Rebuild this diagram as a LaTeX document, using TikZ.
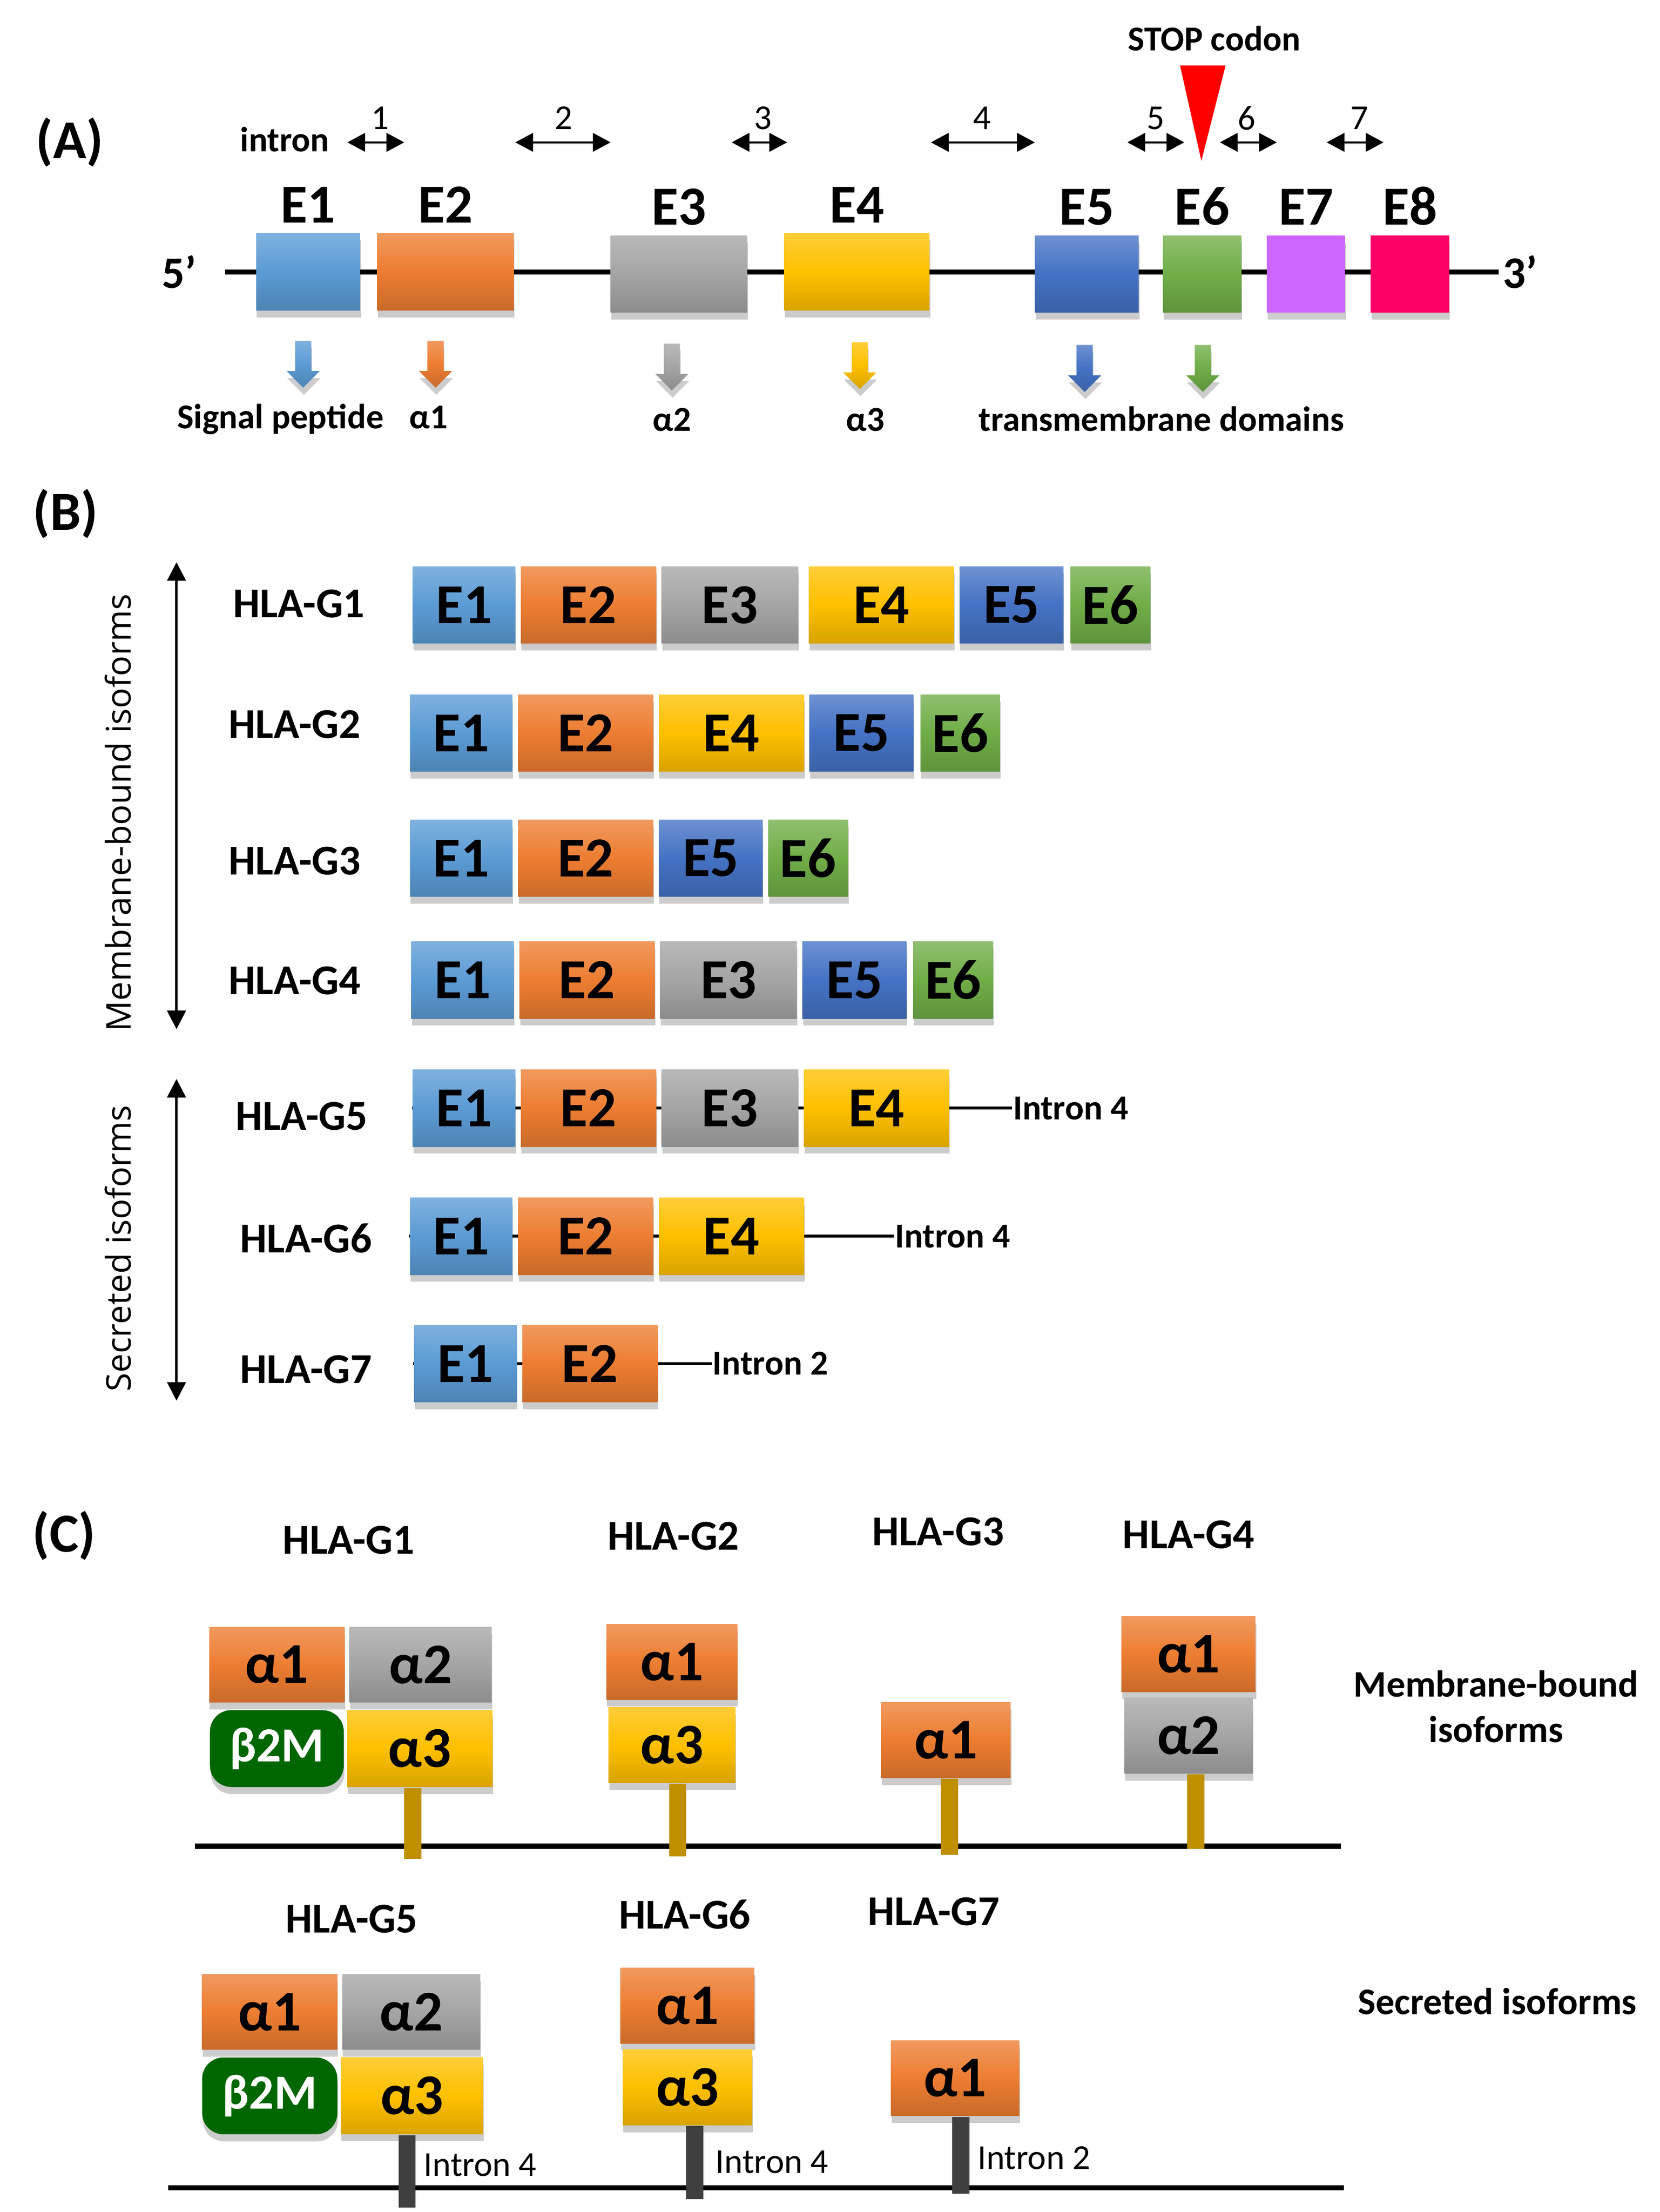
\documentclass[tikz,border=0pt]{standalone}
\usepackage{fontspec}
\setmainfont{Carlito}
\newfontfamily\sidefont{Open Sans}
\usetikzlibrary{positioning,shadows,shapes.arrows,arrows.meta,backgrounds}
\definecolor{cone}{HTML}{5B9BD5}
\definecolor{ctwo}{HTML}{ED7D31}
\definecolor{cthree}{HTML}{A5A5A5}
\definecolor{cfour}{HTML}{FFC000}
\definecolor{cfive}{HTML}{4472C4}
\definecolor{csix}{HTML}{70AD47}
\definecolor{cseven}{HTML}{CC66FF}
\definecolor{ceight}{HTML}{FF0066}
\definecolor{cbeta}{HTML}{006600}
\definecolor{cgold}{HTML}{BF8F00}
\definecolor{cdark}{HTML}{3F3F3F}
\begin{document}
\begin{tikzpicture}[x=0.1mm,y=-0.1mm]
  \tikzset{
    node distance=0.25mm,
    boxshadow/.style={drop shadow={shadow xshift=0.05mm,shadow yshift=-0.5mm,opacity=0.2,fill=black}},
    tint/.style={top color=#1!78!white,bottom color=#1!85!black,middle color=#1},
    gene/.style={rectangle,inner sep=0pt,minimum height=5.4mm,boxshadow},
    exon/.style={rectangle,inner sep=0pt,minimum height=5.4mm,boxshadow,font=\fontsize{11.3}{12}\selectfont\bfseries},
    exone/.style={exon,tint=cone,minimum width=7.2mm},
    extwo/.style={exon,tint=ctwo,minimum width=9.5mm},
    exthree/.style={exon,tint=cthree,minimum width=9.6mm},
    exfour/.style={exon,tint=cfour,minimum width=10.2mm},
    exfive/.style={exon,tint=cfive,minimum width=7.3mm},
    exsix/.style={exon,tint=csix,minimum width=5.6mm},
    dom/.style={rectangle,inner sep=0pt,minimum height=5.3mm,boxshadow,font=\fontsize{11.5}{12}\selectfont\bfseries},
    betabox/.style={rectangle,rounded corners=1.5mm,inner sep=0pt,minimum height=5.4mm,fill=cbeta,text=white,boxshadow,font=\fontsize{9.8}{11}\selectfont\bfseries},
    elabel/.style={inner sep=0pt,font=\fontsize{11}{12}\selectfont\bfseries},
    panellabel/.style={inner sep=0pt,font=\fontsize{11}{12}\selectfont\bfseries},
    iso/.style={inner sep=0pt,font=\fontsize{8.5}{9}\selectfont\bfseries},
    tag/.style={inner sep=0pt,font=\fontsize{7}{8}\selectfont\bfseries},
    tagplain/.style={inner sep=0pt,font=\fontsize{7}{8}\selectfont},
    sidelabel/.style={inner sep=0pt,rotate=90,font=\sidefont\fontsize{6.8}{8}\selectfont},
    dnarrow/.style={single arrow,shape border rotate=270,inner sep=0.5mm,minimum height=3.3mm,single arrow head extend=0.6mm,boxshadow},
    intron/.style={line width=0.4pt,{Triangle[width=1.3mm,length=1.25mm]}-{Triangle[width=1.3mm,length=1.25mm]}},
    isospan/.style={line width=0.5pt,{Triangle[width=1.3mm,length=1.3mm]}-{Triangle[width=1.3mm,length=1.3mm]}},
    strand/.style={line width=1pt},
    thinline/.style={line width=0.6pt},
    goldstem/.style={line width=1.2mm,draw=cgold},
    darkstem/.style={line width=1.2mm,draw=cdark}
  }
  \useasboundingbox (0,0) rectangle (1166,1554);

  % (A) gene structure
  \node[panellabel] (pa) at (49,100) {(A)};
  \node[tag] (intr) at (200,98) {intron};
  \coordinate (i1a) at (244,100); \coordinate (i1b) at (284,100);
  \coordinate (i2a) at (362,100); \coordinate (i2b) at (429,100);
  \coordinate (i3a) at (514,100); \coordinate (i3b) at (553,100);
  \coordinate (i4a) at (654,100); \coordinate (i4b) at (727,100);
  \coordinate (i5a) at (792,100); \coordinate (i5b) at (832,100);
  \coordinate (i6a) at (857,100); \coordinate (i6b) at (897,100);
  \coordinate (i7a) at (932,100); \coordinate (i7b) at (972,100);
  \draw[intron] (i1a) -- (i1b);
  \draw[intron] (i2a) -- (i2b);
  \draw[intron] (i3a) -- (i3b);
  \draw[intron] (i4a) -- (i4b);
  \draw[intron] (i5a) -- (i5b);
  \draw[intron] (i6a) -- (i6b);
  \draw[intron] (i7a) -- (i7b);
  \node[tagplain] (n1) at (267,83) {1};
  \node[tagplain] (n2) at (396,83) {2};
  \node[tagplain] (n3) at (536,83) {3};
  \node[tagplain] (n4) at (690,83) {4};
  \node[tagplain] (n5) at (812,83) {5};
  \node[tagplain] (n6) at (876,83) {6};
  \node[tagplain] (n7) at (955,83) {7};
  \node[tag] (stoplab) at (853,27) {STOP codon};
  \fill[red] (829,46) -- (861,46) -- (844,113) -- cycle;

  \coordinate (l5) at (158,191);
  \coordinate (l3) at (1053,191);
  \draw[strand] (l5) -- (l3);
  \node[inner sep=0pt,font=\fontsize{9}{10}\selectfont\bfseries] (p5) at (126,191) {5’};
  \node[inner sep=0pt,font=\fontsize{9}{10}\selectfont\bfseries] (p3) at (1068,191) {3’};

  \node[gene,tint=cone,minimum width=7.3mm] (a1) at (216.5,191) {};
  \node[gene,tint=ctwo,minimum width=9.6mm] (a2) at (313,191) {};
  \node[gene,tint=cthree,minimum width=9.6mm] (a3) at (477,192.5) {};
  \node[gene,tint=cfour,minimum width=10.2mm] (a4) at (602,191) {};
  \node[gene,tint=cfive,minimum width=7.3mm] (a5) at (763.5,192.5) {};
  \node[gene,tint=csix,minimum width=5.5mm] (a6) at (844.5,192.5) {};
  \node[gene,fill=cseven,minimum width=5.5mm] (a7) at (917.5,192.5) {};
  \node[gene,fill=ceight,minimum width=5.5mm] (a8) at (990.5,192.5) {};
  \node[elabel,above=0.6mm of a1] (t1) {E1};
  \node[elabel,above=0.6mm of a2] (t2) {E2};
  \node[elabel,above=0.6mm of a3] (t3) {E3};
  \node[elabel,above=0.6mm of a4] (t4) {E4};
  \node[elabel,above=0.6mm of a5] (t5) {E5};
  \node[elabel,above=0.6mm of a6] (t6) {E6};
  \node[elabel,above=0.6mm of a7] (t7) {E7};
  \node[elabel,above=0.6mm of a8] (t8) {E8};

  \node[dnarrow,tint=cone] (d1) at (213,253) {};
  \node[dnarrow,tint=ctwo] (d2) at (306,253) {};
  \node[dnarrow,tint=cthree] (d3) at (472,255) {};
  \node[dnarrow,tint=cfour] (d4) at (604,254) {};
  \node[dnarrow,tint=cfive] (d5) at (762,256) {};
  \node[dnarrow,tint=csix] (d6) at (845,256) {};
  \node[tag,anchor=base] (sp) at (197,301) {Signal peptide};
  \node[tag,anchor=base] (la1) at (301,301) {α1};
  \node[tag,anchor=base] (la2) at (472,303) {α2};
  \node[tag,anchor=base] (la3) at (608,303) {α3};
  \node[tag,anchor=base] (tm) at (816,303) {transmembrane domains};

  % (B) transcripts
  \node[panellabel] (pb) at (46,361) {(B)};
  \coordinate (mtop) at (124,395); \coordinate (mbot) at (124,723);
  \coordinate (stop) at (124,758); \coordinate (sbot) at (124,984);
  \draw[isospan] (mtop) -- (mbot);
  \draw[isospan] (stop) -- (sbot);
  \node[sidelabel] (mlab) at (83,571) {Membrane-bound isoforms};
  \node[sidelabel] (slab) at (83,877) {Secreted isoforms};

  \node[iso] (g1) at (210,424) {HLA-G1};
  \node[exone] (g1e1) at (326,425) {E1};
  \node[extwo,right=of g1e1] (g1e2) {E2};
  \node[exthree,right=of g1e2] (g1e3) {E3};
  \node[exfour,right=0.6mm of g1e3] (g1e4) {E4};
  \node[exfive,right=of g1e4] (g1e5) {E5};
  \node[exsix,right=0.35mm of g1e5] (g1e6) {E6};

  \node[iso] (g2) at (207,509) {HLA-G2};
  \node[exone] (g2e1) at (324,515) {E1};
  \node[extwo,right=of g2e1] (g2e2) {E2};
  \node[exfour,right=of g2e2] (g2e4) {E4};
  \node[exfive,right=of g2e4] (g2e5) {E5};
  \node[exsix,right=0.35mm of g2e5] (g2e6) {E6};

  \node[iso] (g3) at (207,605) {HLA-G3};
  \node[exone] (g3e1) at (324,603) {E1};
  \node[extwo,right=of g3e1] (g3e2) {E2};
  \node[exfive,right=of g3e2] (g3e5) {E5};
  \node[exsix,right=of g3e5] (g3e6) {E6};

  \node[iso] (g4) at (207,689) {HLA-G4};
  \node[exone] (g4e1) at (325,688.5) {E1};
  \node[extwo,right=of g4e1] (g4e2) {E2};
  \node[exthree,right=of g4e2] (g4e3) {E3};
  \node[exfive,right=of g4e3] (g4e5) {E5};
  \node[exsix,right=0.35mm of g4e5] (g4e6) {E6};

  \node[iso] (g5) at (212,784) {HLA-G5};
  \node[exone] (g5e1) at (326,778.5) {E1};
  \node[extwo,right=of g5e1] (g5e2) {E2};
  \node[exthree,right=of g5e2] (g5e3) {E3};
  \node[exfour,right=of g5e3] (g5e4) {E4};
  \node[tag,anchor=west] (g5i) at (711,778.5) {Intron 4};

  \node[iso] (g6) at (215,870) {HLA-G6};
  \node[exone] (g6e1) at (324,868.5) {E1};
  \node[extwo,right=of g6e1] (g6e2) {E2};
  \node[exfour,right=of g6e2] (g6e4) {E4};
  \node[tag,anchor=west] (g6i) at (628,868.5) {Intron 4};

  \node[iso] (g7) at (215,962) {HLA-G7};
  \node[exone] (g7e1) at (327,958) {E1};
  \node[extwo,right=of g7e1] (g7e2) {E2};
  \node[tag,anchor=west] (g7i) at (500,958) {Intron 2};

  \begin{scope}[on background layer]
    \draw[thinline] (g5e1.west) -- (g5i.west);
    \draw[thinline] (g6e1.west) -- (g6i.west);
    \draw[thinline] (g7e1.west) -- (g7i.west);
  \end{scope}

  % (C) protein isoforms
  \node[panellabel] (pc) at (45,1079) {(C)};
  \node[iso] (h1) at (245,1082) {HLA-G1};
  \node[iso] (h2) at (473,1079) {HLA-G2};
  \node[iso] (h3) at (659,1076) {HLA-G3};
  \node[iso] (h4) at (835,1078) {HLA-G4};
  \node[tag,align=center,font=\fontsize{7.5}{9.1}\selectfont\bfseries] (mbl) at (1051,1199) {Membrane-bound\\isoforms};

  \coordinate (ml) at (137,1297); \coordinate (mr) at (942,1297);
  \draw[strand] (ml) -- (mr);

  \node[dom,tint=ctwo,minimum width=9.5mm] (c1a1) at (194.5,1169.5) {α1};
  \node[dom,tint=cthree,minimum width=10mm,right=0.2mm of c1a1] (c1a2) {α2};
  \node[betabox,minimum width=9.4mm,below=0.4mm of c1a1] (c1b) {β2M};
  \node[dom,tint=cfour,minimum width=10.2mm,minimum height=5.4mm,right=0.1mm of c1b] (c1a3) {α3};
  \coordinate (c1s) at (290,1306);
  \draw[goldstem] (c1a3.south -| c1s) -- (c1s);

  \node[dom,tint=ctwo,minimum width=9.2mm] (c2a1) at (472,1167.5) {α1};
  \node[dom,tint=cfour,minimum width=8.9mm,below=0.4mm of c2a1] (c2a3) {α3};
  \coordinate (c2s) at (476,1304);
  \draw[goldstem] (c2a3.south -| c2s) -- (c2s);

  \node[dom,tint=ctwo,minimum width=9.1mm] (c3a1) at (664.5,1222.5) {α1};
  \coordinate (c3s) at (667,1303);
  \draw[goldstem] (c3a1.south -| c3s) -- (c3s);

  \node[dom,tint=ctwo,minimum width=9.4mm] (c4a1) at (835,1162) {α1};
  \node[dom,tint=cthree,minimum width=9mm,below=0.3mm of c4a1] (c4a2) {α2};
  \coordinate (c4s) at (840,1299);
  \draw[goldstem] (c4a2.south -| c4s) -- (c4s);

  \node[iso] (h5) at (247,1348) {HLA-G5};
  \node[iso] (h6) at (481,1345) {HLA-G6};
  \node[iso] (h7) at (656,1343) {HLA-G7};
  \node[tag,font=\fontsize{7.5}{9}\selectfont\bfseries] (sel) at (1052,1406) {Secreted isoforms};

  \coordinate (bl) at (118,1537); \coordinate (br) at (944,1537);
  \draw[strand] (bl) -- (br);

  \node[dom,tint=ctwo,minimum width=9.5mm] (c5a1) at (189.5,1413.5) {α1};
  \node[dom,tint=cthree,minimum width=9.7mm,right=0.2mm of c5a1] (c5a2) {α2};
  \node[betabox,minimum width=9.5mm,below=0.4mm of c5a1] (c5b) {β2M};
  \node[dom,tint=cfour,minimum width=10mm,minimum height=5.4mm,right=0.1mm of c5b] (c5a3) {α3};
  \coordinate (c5s) at (286,1551);
  \draw[darkstem] (c5a3.south -| c5s) -- (c5s);
  \node[tagplain,anchor=west] (c5i) at (297,1521) {Intron 4};

  \node[dom,tint=ctwo,minimum width=9.4mm] (c6a1) at (483,1409) {α1};
  \node[dom,tint=cfour,minimum width=9.1mm,below=0.3mm of c6a1] (c6a3) {α3};
  \coordinate (c6s) at (488,1545);
  \draw[darkstem] (c6a3.south -| c6s) -- (c6s);
  \node[tagplain,anchor=west] (c6i) at (502,1519) {Intron 4};

  \node[dom,tint=ctwo,minimum width=9mm] (c7a1) at (671,1460) {α1};
  \coordinate (c7s) at (675,1541);
  \draw[darkstem] (c7a1.south -| c7s) -- (c7s);
  \node[tagplain,anchor=west] (c7i) at (686,1516) {Intron 2};
\end{tikzpicture}
\end{document}
